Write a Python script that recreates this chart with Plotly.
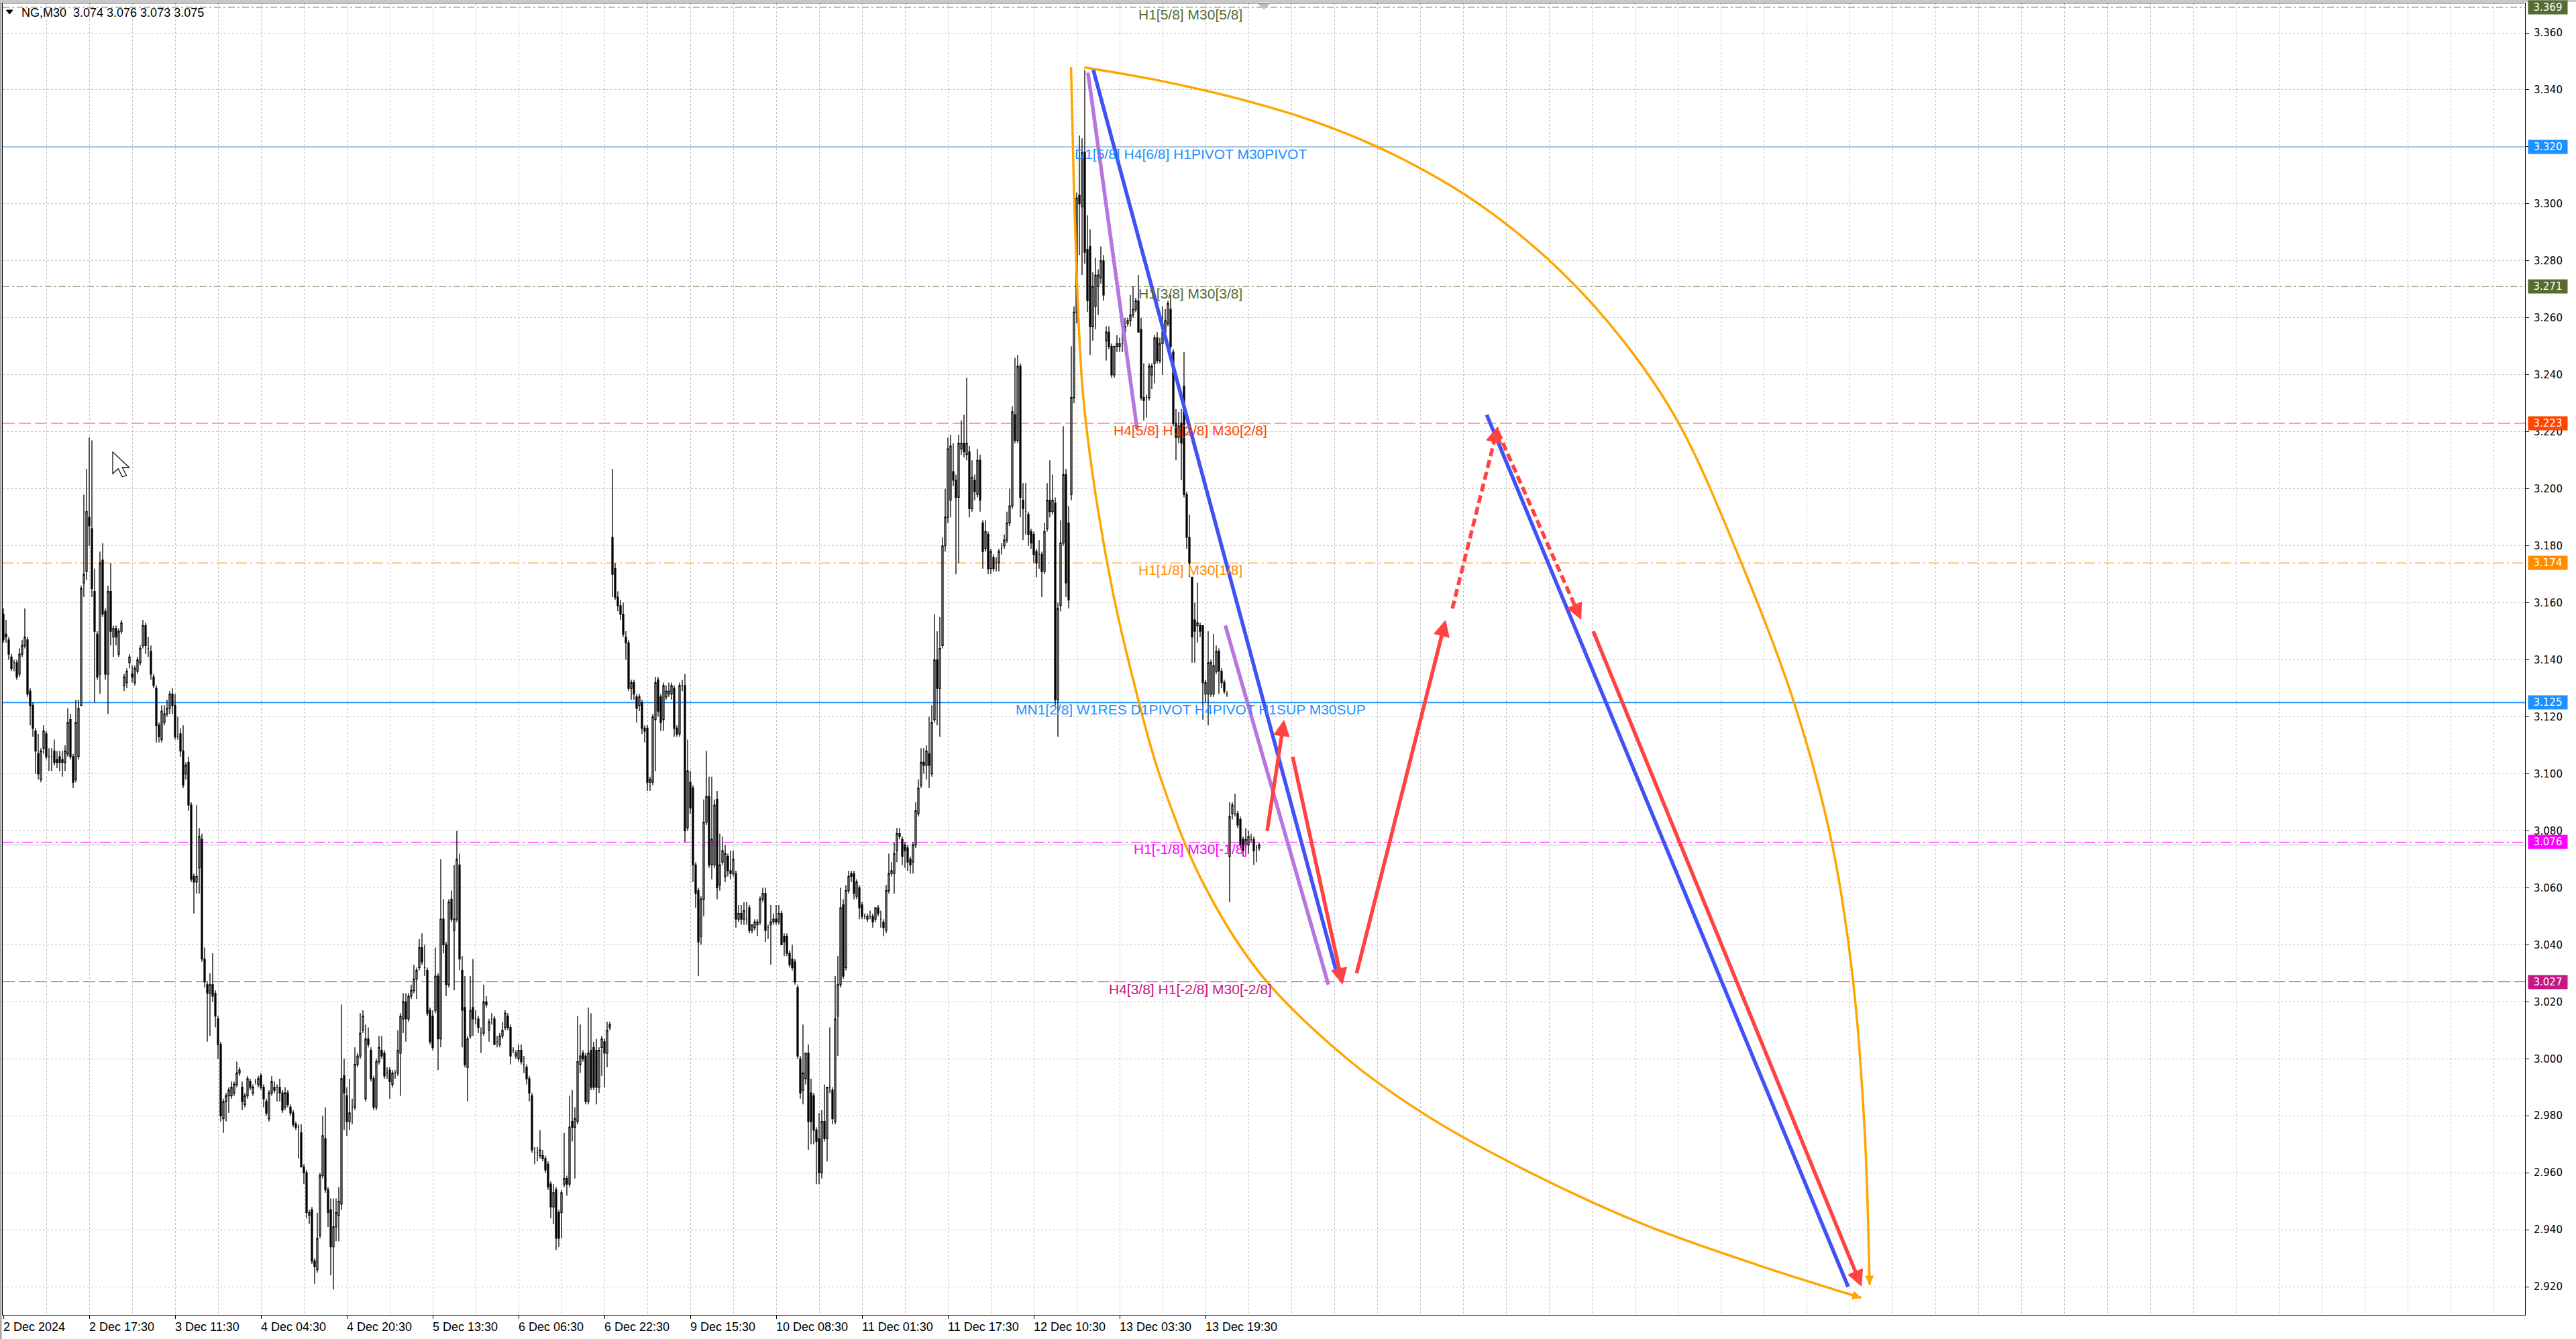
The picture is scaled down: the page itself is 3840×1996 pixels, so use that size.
import math
import plotly.graph_objects as go

# ---------------- candles (open, high, low, close), one list per session block ----------------
SEG_02DEC_A = [
    (3.156, 3.158, 3.146, 3.147), (3.149, 3.154, 3.146, 3.148), (3.147, 3.148, 3.140, 3.142), (3.141, 3.142, 3.136, 3.137),
    (3.139, 3.140, 3.136, 3.139), (3.139, 3.140, 3.133, 3.134), (3.135, 3.144, 3.134, 3.142), (3.142, 3.147, 3.141, 3.145),
    (3.145, 3.158, 3.144, 3.148), (3.147, 3.148, 3.127, 3.128), (3.129, 3.130, 3.117, 3.124), (3.124, 3.125, 3.113, 3.116),
    (3.115, 3.116, 3.100, 3.108), (3.107, 3.114, 3.098, 3.100), (3.098, 3.109, 3.097, 3.108), (3.109, 3.117, 3.107, 3.115),
    (3.114, 3.115, 3.105, 3.106), (3.106, 3.109, 3.101, 3.106), (3.106, 3.109, 3.101, 3.106), (3.108, 3.112, 3.103, 3.104),
    (3.105, 3.108, 3.102, 3.104), (3.106, 3.108, 3.101, 3.104), (3.105, 3.108, 3.099, 3.104), (3.104, 3.110, 3.101, 3.108),
    (3.107, 3.123, 3.106, 3.118), (3.119, 3.121, 3.105, 3.106), (3.106, 3.107, 3.095, 3.097), (3.098, 3.126, 3.097, 3.118),
    (3.106, 3.126, 3.105, 3.123), (3.124, 3.166, 3.124, 3.165), (3.167, 3.198, 3.162, 3.170), (3.171, 3.207, 3.168, 3.192),
]
SEG_02DEC_B = [
    (3.190, 3.218, 3.180, 3.187), (3.186, 3.217, 3.162, 3.165), (3.164, 3.172, 3.125, 3.150), (3.149, 3.150, 3.133, 3.134),
    (3.135, 3.178, 3.128, 3.174), (3.175, 3.181, 3.155, 3.156), (3.157, 3.158, 3.133, 3.135), (3.135, 3.166, 3.121, 3.164),
    (3.164, 3.174, 3.145, 3.150), (3.148, 3.152, 3.141, 3.151), (3.151, 3.152, 3.145, 3.148), (3.142, 3.151, 3.141, 3.150),
    (3.150, 3.154, 3.149, 3.153), (3.131, 3.135, 3.129, 3.134), (3.132, 3.137, 3.130, 3.136), (3.139, 3.142, 3.137, 3.141),
    (3.135, 3.138, 3.132, 3.134), (3.132, 3.138, 3.131, 3.137), (3.136, 3.141, 3.135, 3.140), (3.139, 3.145, 3.138, 3.144),
    (3.145, 3.154, 3.144, 3.152), (3.152, 3.153, 3.142, 3.145), (3.144, 3.148, 3.141, 3.144), (3.143, 3.145, 3.133, 3.135),
    (3.134, 3.135, 3.130, 3.131), (3.130, 3.131, 3.111, 3.117), (3.117, 3.118, 3.111, 3.113), (3.112, 3.124, 3.111, 3.122),
    (3.118, 3.124, 3.117, 3.121), (3.121, 3.126, 3.120, 3.123), (3.123, 3.129, 3.121, 3.128), (3.128, 3.130, 3.121, 3.124),
]
SEG_03DEC = [
    (3.124, 3.128, 3.112, 3.113), (3.113, 3.120, 3.112, 3.113), (3.114, 3.116, 3.106, 3.108), (3.108, 3.117, 3.095, 3.096),
    (3.100, 3.104, 3.098, 3.103), (3.104, 3.106, 3.087, 3.089), (3.089, 3.090, 3.062, 3.063), (3.064, 3.065, 3.051, 3.062),
    (3.062, 3.089, 3.058, 3.064), (3.067, 3.081, 3.058, 3.078), (3.077, 3.079, 3.034, 3.035), (3.035, 3.039, 3.025, 3.027),
    (3.026, 3.027, 3.006, 3.023), (3.023, 3.030, 3.008, 3.026), (3.026, 3.037, 3.020, 3.022), (3.023, 3.024, 3.011, 3.015),
    (3.014, 3.015, 3.000, 3.005), (3.005, 3.006, 2.978, 2.980), (2.979, 2.986, 2.974, 2.985), (2.985, 2.988, 2.978, 2.987),
    (2.987, 2.990, 2.981, 2.989), (2.987, 2.992, 2.986, 2.990), (2.988, 2.992, 2.987, 2.991), (2.991, 2.999, 2.990, 2.995),
    (2.995, 2.997, 2.994, 2.996), (2.990, 2.992, 2.982, 2.985), (2.984, 2.988, 2.983, 2.987), (2.987, 2.994, 2.986, 2.993),
    (2.992, 2.993, 2.989, 2.990), (2.988, 2.991, 2.987, 2.990), (2.992, 2.993, 2.991, 2.992), (2.991, 2.994, 2.990, 2.993),
]
SEG_04DEC_A = [
    (2.994, 2.995, 2.989, 2.990), (2.990, 2.991, 2.983, 2.986), (2.985, 2.986, 2.980, 2.981), (2.979, 2.989, 2.978, 2.988),
    (2.988, 2.994, 2.987, 2.992), (2.990, 2.992, 2.988, 2.989), (2.990, 2.991, 2.985, 2.990), (2.990, 2.993, 2.985, 2.988),
    (2.988, 2.989, 2.981, 2.982), (2.983, 2.990, 2.982, 2.988), (2.988, 2.989, 2.983, 2.984), (2.983, 2.984, 2.980, 2.981),
    (2.981, 2.982, 2.976, 2.977), (2.977, 2.978, 2.975, 2.976), (2.976, 2.977, 2.965, 2.976), (2.974, 2.977, 2.962, 2.962),
    (2.962, 2.963, 2.956, 2.960), (2.960, 2.961, 2.944, 2.946), (2.945, 2.947, 2.942, 2.946), (2.947, 2.948, 2.928, 2.929),
    (2.929, 2.930, 2.921, 2.927), (2.926, 2.946, 2.925, 2.937), (2.938, 2.960, 2.937, 2.959), (2.959, 2.980, 2.958, 2.973),
    (2.972, 2.983, 2.953, 2.954), (2.954, 2.955, 2.941, 2.946), (2.947, 2.951, 2.924, 2.934), (2.934, 2.951, 2.919, 2.941),
    (2.941, 2.951, 2.936, 2.946), (2.945, 2.955, 2.936, 2.950), (2.949, 3.019, 2.947, 2.993), (2.994, 3.000, 2.975, 2.988),
]
SEG_04DEC_B = [
    (2.987, 2.990, 2.973, 2.978), (2.978, 2.993, 2.975, 2.981), (2.983, 2.986, 2.977, 2.983), (2.983, 3.004, 2.982, 2.998),
    (2.998, 3.002, 2.997, 3.001), (3.001, 3.016, 3.000, 3.009), (3.010, 3.017, 3.009, 3.015), (2.986, 3.012, 2.985, 3.007),
    (3.007, 3.011, 3.004, 3.005), (3.003, 3.004, 2.992, 2.993), (2.993, 2.994, 2.982, 2.983), (2.983, 3.000, 2.982, 2.999),
    (2.999, 3.008, 2.998, 3.004), (3.003, 3.008, 3.000, 3.001), (3.002, 3.003, 2.993, 2.994), (2.995, 2.997, 2.993, 2.995),
    (2.996, 2.997, 2.986, 2.992), (2.991, 2.996, 2.990, 2.995), (2.995, 2.996, 2.993, 2.995), (2.995, 3.010, 2.994, 3.003),
    (3.002, 3.016, 2.987, 3.015), (3.014, 3.023, 3.009, 3.020), (3.020, 3.023, 3.006, 3.014), (3.014, 3.023, 3.013, 3.022),
    (3.022, 3.026, 3.021, 3.024), (3.024, 3.033, 3.023, 3.028), (3.028, 3.032, 3.021, 3.031), (3.032, 3.042, 3.031, 3.039),
    (3.039, 3.044, 3.033, 3.034), (3.032, 3.040, 3.029, 3.032), (3.031, 3.032, 3.015, 3.016), (3.017, 3.018, 3.005, 3.006),
]
SEG_05DEC = [
    (3.015, 3.017, 3.003, 3.004), (3.017, 3.039, 3.016, 3.029), (3.029, 3.030, 2.996, 3.007), (3.007, 3.070, 3.004, 3.049),
    (3.049, 3.056, 3.037, 3.040), (3.040, 3.041, 3.022, 3.026), (3.026, 3.056, 3.025, 3.055), (3.056, 3.059, 3.048, 3.049),
    (3.045, 3.068, 3.024, 3.049), (3.049, 3.080, 3.048, 3.070), (3.068, 3.072, 3.031, 3.035), (3.031, 3.036, 3.004, 3.017),
    (3.018, 3.029, 2.997, 2.998), (2.997, 3.008, 2.985, 3.007), (3.008, 3.029, 3.007, 3.017), (3.018, 3.035, 3.008, 3.014),
    (3.014, 3.017, 3.012, 3.014), (3.014, 3.015, 3.009, 3.011), (3.009, 3.011, 3.002, 3.009), (3.009, 3.026, 3.008, 3.020),
    (3.020, 3.022, 3.018, 3.019), (3.010, 3.014, 3.006, 3.013), (3.014, 3.016, 3.012, 3.014), (3.014, 3.015, 3.005, 3.005),
    (3.006, 3.008, 3.004, 3.006), (3.005, 3.009, 3.004, 3.008), (3.008, 3.013, 3.007, 3.010), (3.011, 3.017, 3.010, 3.016),
    (3.015, 3.016, 3.010, 3.011), (3.011, 3.012, 2.998, 3.001), (3.003, 3.004, 3.002, 3.003), (3.001, 3.003, 3.000, 3.002),
]
SEG_06DEC = [
    (3.000, 3.005, 2.999, 3.003), (3.003, 3.005, 2.998, 2.999), (2.998, 3.001, 2.995, 2.998), (2.997, 2.998, 2.991, 2.993),
    (2.993, 2.994, 2.985, 2.988), (2.987, 2.988, 2.967, 2.968), (2.967, 2.969, 2.963, 2.967), (2.967, 2.969, 2.964, 2.967),
    (2.966, 2.975, 2.965, 2.968), (2.966, 2.968, 2.964, 2.965), (2.965, 2.966, 2.960, 2.961), (2.963, 2.964, 2.954, 2.955),
    (2.956, 2.957, 2.944, 2.948), (2.948, 2.956, 2.942, 2.953), (2.954, 2.955, 2.933, 2.937), (2.946, 2.947, 2.934, 2.937),
    (2.946, 2.954, 2.937, 2.953), (2.956, 2.974, 2.955, 2.958), (2.958, 2.959, 2.952, 2.956), (2.956, 2.987, 2.955, 2.976),
    (2.978, 2.989, 2.971, 2.976), (2.976, 2.983, 2.958, 2.979), (2.978, 3.015, 2.977, 2.999), (2.998, 3.012, 2.995, 3.001),
    (3.002, 3.003, 2.999, 3.000), (3.001, 3.002, 2.984, 2.985), (2.985, 3.018, 2.984, 3.002), (3.003, 3.016, 2.989, 2.990),
    (3.004, 3.006, 2.989, 2.990), (3.003, 3.007, 2.984, 2.990), (2.990, 3.004, 2.988, 3.003), (3.004, 3.008, 2.994, 3.007),
    (3.006, 3.007, 2.990, 3.002), (3.002, 3.013, 2.997, 3.010), (3.011, 3.013, 3.010, 3.012),
]
SEG_09DEC_A = [
    (3.183, 3.207, 3.162, 3.170), (3.172, 3.174, 3.161, 3.162), (3.162, 3.164, 3.157, 3.159), (3.159, 3.161, 3.154, 3.156),
    (3.156, 3.160, 3.148, 3.149), (3.148, 3.150, 3.140, 3.146), (3.146, 3.147, 3.129, 3.130), (3.130, 3.133, 3.126, 3.132),
    (3.132, 3.133, 3.126, 3.128), (3.127, 3.128, 3.118, 3.123), (3.124, 3.128, 3.122, 3.127), (3.125, 3.126, 3.114, 3.116),
    (3.116, 3.117, 3.111, 3.115), (3.116, 3.117, 3.094, 3.097), (3.097, 3.099, 3.094, 3.098), (3.097, 3.121, 3.096, 3.120),
    (3.119, 3.134, 3.101, 3.132), (3.133, 3.134, 3.120, 3.122), (3.127, 3.128, 3.115, 3.118), (3.119, 3.132, 3.115, 3.131),
    (3.127, 3.131, 3.126, 3.129), (3.128, 3.132, 3.127, 3.129), (3.128, 3.132, 3.126, 3.131), (3.130, 3.131, 3.113, 3.116),
    (3.116, 3.117, 3.113, 3.114), (3.114, 3.132, 3.113, 3.131), (3.131, 3.133, 3.129, 3.131), (3.131, 3.135, 3.076, 3.080),
    (3.081, 3.112, 3.080, 3.101),
]
SEG_09DEC_B = [
    (3.097, 3.101, 3.086, 3.088), (3.095, 3.096, 3.062, 3.068), (3.068, 3.069, 3.053, 3.058), (3.059, 3.060, 3.029, 3.041),
    (3.043, 3.057, 3.040, 3.056), (3.056, 3.091, 3.050, 3.083), (3.083, 3.108, 3.082, 3.092), (3.092, 3.099, 3.067, 3.068),
    (3.068, 3.099, 3.063, 3.077), (3.068, 3.091, 3.067, 3.089), (3.091, 3.094, 3.056, 3.060), (3.061, 3.079, 3.059, 3.068),
    (3.069, 3.078, 3.068, 3.073), (3.064, 3.075, 3.062, 3.072), (3.071, 3.072, 3.064, 3.066), (3.066, 3.073, 3.063, 3.065),
    (3.065, 3.073, 3.064, 3.070), (3.065, 3.066, 3.046, 3.049), (3.049, 3.054, 3.048, 3.051), (3.051, 3.054, 3.047, 3.049),
    (3.049, 3.055, 3.047, 3.052), (3.049, 3.055, 3.047, 3.049), (3.053, 3.054, 3.044, 3.045), (3.045, 3.047, 3.044, 3.047),
    (3.046, 3.049, 3.045, 3.048), (3.047, 3.049, 3.043, 3.048), (3.048, 3.057, 3.047, 3.056), (3.056, 3.060, 3.055, 3.058),
    (3.058, 3.060, 3.041, 3.045), (3.046, 3.047, 3.042, 3.046), (3.047, 3.054, 3.033, 3.048), (3.048, 3.051, 3.047, 3.049),
]
SEG_10DEC = [
    (3.049, 3.054, 3.047, 3.048), (3.048, 3.054, 3.047, 3.051), (3.051, 3.052, 3.040, 3.040), (3.043, 3.044, 3.036, 3.041),
    (3.043, 3.044, 3.036, 3.037), (3.037, 3.038, 3.032, 3.033), (3.035, 3.040, 3.031, 3.032), (3.034, 3.035, 3.026, 3.027),
    (3.025, 3.026, 3.000, 3.001), (3.000, 3.001, 2.986, 2.988), (2.989, 3.012, 2.984, 2.995), (2.993, 3.002, 2.991, 3.002),
    (3.002, 3.005, 2.968, 2.978), (2.988, 2.993, 2.970, 2.978), (2.987, 2.988, 2.970, 2.975), (2.975, 2.976, 2.956, 2.971),
    (2.972, 2.981, 2.956, 2.960), (2.960, 2.982, 2.958, 2.978), (2.978, 2.991, 2.971, 2.972), (2.972, 2.990, 2.964, 2.990),
    (2.990, 3.011, 2.988, 2.990), (2.989, 2.990, 2.977, 2.979), (2.978, 3.029, 2.977, 3.014), (3.015, 3.036, 3.001, 3.026),
    (3.026, 3.060, 3.025, 3.053), (3.054, 3.056, 3.028, 3.029), (3.032, 3.061, 3.031, 3.059), (3.059, 3.066, 3.058, 3.064),
    (3.065, 3.066, 3.062, 3.064), (3.065, 3.066, 3.056, 3.058), (3.057, 3.063, 3.056, 3.062), (3.060, 3.061, 3.049, 3.053),
]
SEG_11DEC_A = [
    (3.054, 3.055, 3.049, 3.050), (3.050, 3.051, 3.049, 3.050), (3.049, 3.051, 3.048, 3.050), (3.050, 3.052, 3.049, 3.050),
    (3.050, 3.051, 3.046, 3.048), (3.049, 3.053, 3.048, 3.053), (3.053, 3.054, 3.050, 3.051), (3.049, 3.052, 3.046, 3.049),
    (3.048, 3.049, 3.043, 3.046), (3.045, 3.061, 3.044, 3.059), (3.059, 3.072, 3.058, 3.065), (3.065, 3.069, 3.064, 3.066),
    (3.065, 3.076, 3.058, 3.072), (3.073, 3.081, 3.069, 3.079), (3.079, 3.081, 3.077, 3.078), (3.077, 3.078, 3.068, 3.071),
    (3.075, 3.076, 3.067, 3.073), (3.074, 3.075, 3.066, 3.069), (3.070, 3.071, 3.065, 3.068), (3.069, 3.076, 3.065, 3.075),
    (3.075, 3.090, 3.074, 3.087), (3.086, 3.098, 3.085, 3.095), (3.096, 3.109, 3.095, 3.104), (3.104, 3.109, 3.100, 3.103),
    (3.103, 3.110, 3.098, 3.108), (3.107, 3.120, 3.095, 3.103), (3.100, 3.124, 3.099, 3.118), (3.119, 3.156, 3.118, 3.140),
    (3.140, 3.150, 3.117, 3.130), (3.130, 3.155, 3.113, 3.144), (3.145, 3.183, 3.144, 3.180), (3.180, 3.200, 3.178, 3.190),
]
SEG_11DEC_B = [
    (3.190, 3.218, 3.188, 3.214), (3.196, 3.219, 3.190, 3.215), (3.206, 3.216, 3.201, 3.203), (3.203, 3.205, 3.170, 3.197),
    (3.197, 3.219, 3.174, 3.216), (3.214, 3.224, 3.212, 3.216), (3.216, 3.226, 3.211, 3.213), (3.212, 3.239, 3.210, 3.216),
    (3.213, 3.215, 3.190, 3.193), (3.193, 3.210, 3.192, 3.204), (3.203, 3.205, 3.196, 3.199), (3.198, 3.214, 3.197, 3.210),
    (3.210, 3.212, 3.192, 3.196), (3.188, 3.189, 3.172, 3.178), (3.179, 3.189, 3.178, 3.185), (3.184, 3.185, 3.170, 3.172),
    (3.172, 3.179, 3.170, 3.178), (3.176, 3.177, 3.171, 3.172), (3.174, 3.176, 3.171, 3.174), (3.174, 3.179, 3.171, 3.178),
    (3.179, 3.181, 3.177, 3.179), (3.180, 3.184, 3.179, 3.182), (3.182, 3.192, 3.181, 3.188), (3.188, 3.200, 3.187, 3.194),
    (3.194, 3.229, 3.193, 3.227), (3.226, 3.246, 3.216, 3.217), (3.217, 3.247, 3.216, 3.243), (3.243, 3.244, 3.190, 3.197),
    (3.196, 3.202, 3.182, 3.193), (3.192, 3.202, 3.184, 3.192), (3.191, 3.192, 3.180, 3.184), (3.185, 3.186, 3.179, 3.181),
]
SEG_12DEC = [
    (3.184, 3.185, 3.174, 3.177), (3.178, 3.179, 3.169, 3.174), (3.177, 3.182, 3.172, 3.177), (3.177, 3.178, 3.162, 3.171),
    (3.171, 3.188, 3.170, 3.185), (3.186, 3.202, 3.185, 3.196), (3.196, 3.210, 3.190, 3.192), (3.192, 3.205, 3.191, 3.196),
    (3.195, 3.197, 3.124, 3.126), (3.126, 3.160, 3.113, 3.158), (3.159, 3.189, 3.157, 3.181), (3.181, 3.222, 3.180, 3.205),
    (3.205, 3.207, 3.162, 3.167), (3.188, 3.194, 3.158, 3.161), (3.198, 3.250, 3.196, 3.232), (3.232, 3.264, 3.230, 3.262),
    (3.262, 3.304, 3.258, 3.302), (3.303, 3.324, 3.282, 3.300), (3.299, 3.323, 3.275, 3.318), (3.318, 3.347, 3.279, 3.283),
    (3.284, 3.296, 3.262, 3.266), (3.285, 3.291, 3.247, 3.257), (3.257, 3.276, 3.252, 3.271), (3.264, 3.281, 3.256, 3.275),
    (3.271, 3.277, 3.261, 3.275), (3.274, 3.285, 3.272, 3.280), (3.280, 3.282, 3.266, 3.268), (3.252, 3.257, 3.245, 3.255),
    (3.255, 3.257, 3.249, 3.250), (3.250, 3.251, 3.239, 3.240), (3.240, 3.250, 3.239, 3.250), (3.250, 3.254, 3.248, 3.251),
]
SEG_13DEC_A = [
    (3.250, 3.253, 3.248, 3.251), (3.251, 3.257, 3.248, 3.251), (3.255, 3.260, 3.254, 3.257), (3.258, 3.260, 3.257, 3.259),
    (3.259, 3.268, 3.257, 3.261), (3.261, 3.271, 3.260, 3.263), (3.263, 3.267, 3.262, 3.266), (3.266, 3.275, 3.255, 3.255),
    (3.256, 3.260, 3.231, 3.232), (3.232, 3.244, 3.224, 3.231), (3.232, 3.233, 3.225, 3.232), (3.232, 3.244, 3.231, 3.243),
    (3.240, 3.244, 3.235, 3.243), (3.244, 3.254, 3.237, 3.253), (3.253, 3.255, 3.244, 3.245), (3.245, 3.253, 3.244, 3.251),
    (3.251, 3.264, 3.240, 3.255), (3.255, 3.263, 3.254, 3.259), (3.258, 3.266, 3.257, 3.265), (3.263, 3.268, 3.249, 3.250),
    (3.248, 3.249, 3.222, 3.223), (3.223, 3.228, 3.210, 3.218), (3.218, 3.227, 3.216, 3.222), (3.223, 3.228, 3.203, 3.216),
    (3.236, 3.248, 3.197, 3.198), (3.198, 3.199, 3.179, 3.183), (3.183, 3.191, 3.169, 3.174), (3.169, 3.169, 3.139, 3.148),
    (3.154, 3.160, 3.139, 3.150), (3.152, 3.167, 3.146, 3.153), (3.152, 3.153, 3.148, 3.150), (3.152, 3.152, 3.119, 3.132),
]
SEG_13DEC_B = [
    (3.128, 3.133, 3.125, 3.132), (3.128, 3.150, 3.117, 3.139), (3.128, 3.140, 3.127, 3.139), (3.128, 3.149, 3.127, 3.138),
    (3.136, 3.145, 3.135, 3.143), (3.143, 3.144, 3.128, 3.136), (3.136, 3.137, 3.130, 3.132), (3.132, 3.133, 3.128, 3.129),
    (3.128, 3.129, 3.127, 3.128), (3.071, 3.090, 3.055, 3.085), (3.086, 3.090, 3.084, 3.089), (3.086, 3.093, 3.085, 3.086),
    (3.086, 3.087, 3.081, 3.082), (3.084, 3.085, 3.074, 3.075), (3.077, 3.078, 3.071, 3.073), (3.075, 3.081, 3.074, 3.077),
    (3.075, 3.080, 3.072, 3.078), (3.077, 3.079, 3.076, 3.077), (3.077, 3.078, 3.068, 3.073), (3.074, 3.075, 3.069, 3.074),
    (3.074, 3.076, 3.073, 3.075),
]
SEGMENTS = [SEG_02DEC_A, SEG_02DEC_B, SEG_03DEC, SEG_04DEC_A, SEG_04DEC_B, SEG_05DEC, SEG_06DEC,
            SEG_09DEC_A, SEG_09DEC_B, SEG_10DEC, SEG_11DEC_A, SEG_11DEC_B, SEG_12DEC, SEG_13DEC_A, SEG_13DEC_B]

# ---------------- axis texts ----------------
TIME_LABELS = ["2 Dec 2024", "2 Dec 17:30", "3 Dec 11:30", "4 Dec 04:30", "4 Dec 20:30", "5 Dec 13:30",
               "6 Dec 06:30", "6 Dec 22:30", "9 Dec 15:30", "10 Dec 08:30", "11 Dec 01:30", "11 Dec 17:30",
               "12 Dec 10:30", "13 Dec 03:30", "13 Dec 19:30"]
TIME_LABEL_BARS = [0, 32, 64, 96, 128, 160, 192, 224, 256, 288, 320, 352, 384, 416, 448]
HEADER = "NG,M30&nbsp; 3.074 3.076 3.073 3.075"
BID = 3.075

# ---------------- Murrey / pivot levels ----------------
LEVEL_PRICES = [3.369, 3.320, 3.271, 3.223, 3.174, 3.125, 3.076, 3.027]
LEVEL_TEXTS = ["H1[5/8] M30[5/8]", "D1[5/8] H4[6/8] H1PIVOT M30PIVOT", "H1[3/8] M30[3/8]",
               "H4[5/8] H1[2/8] M30[2/8]", "H1[1/8] M30[1/8]",
               "MN1[2/8] W1RES D1PIVOT H4PIVOT H1SUP M30SUP", "H1[-1/8] M30[-1/8]",
               "H4[3/8] H1[-2/8] M30[-2/8]"]
LEVEL_COLORS = ["#556B2F", "#1E90FF", "#556B2F", "#FF4500", "#FF8C00", "#1E90FF", "#FF00FF", "#C71585"]
LEVEL_DASH = ["10px,4px,3px,4px", "solid", "10px,4px,3px,4px", "18px,6px", "16px,5px,3px,5px",
              "solid", "16px,5px,3px,5px", "18px,6px"]
LEVEL_WIDTH = [1, 1, 1, 1, 1, 2, 1, 1]
LEVEL_LABEL_BAR = 442.4

# ---------------- drawn objects (bar index, price) ----------------
ORANGE_LEFT = [(397.9, 3.348), (398.6, 3.320), (399.4, 3.292), (402.1, 3.236), (406.1, 3.204), (413.2, 3.165),
               (420.0, 3.137), (430.4, 3.101), (446.4, 3.063), (468.3, 3.030), (500.8, 3.000), (531.4, 2.9795),
               (568.1, 2.9605), (611.0, 2.942), (653.9, 2.9276), (692.4, 2.9161)]
ORANGE_RIGHT = [(402.8, 3.3479), (427.3, 3.3439), (457.9, 3.3375), (488.6, 3.3289), (519.2, 3.3168),
                (549.8, 3.3000), (580.4, 3.2764), (604.9, 3.2505), (624.5, 3.2228), (647.8, 3.1738),
                (667.4, 3.1248), (681.4, 3.0758), (689.4, 3.0268), (693.7, 2.9738), (695.5, 2.9207)]
BLUE_LINES = [[(406.2, 3.347), (497.2, 3.029)], [(552.8, 3.226), (687.5, 2.920)]]
PURPLE_LINES = [[(404.2, 3.346), (422.5, 3.221)], [(455.4, 3.152), (493.8, 3.026)]]
RED_START = [(471.0, 3.080), (480.5, 3.106), (504.3, 3.030), (540.0, 3.158), (557.0, 3.220), (592.5, 3.150)]
RED_END = [(477.3, 3.119), (499.1, 3.026), (537.5, 3.154), (557.0, 3.222), (588.0, 3.154), (692.5, 2.920)]
RED_DASHED = [False, False, False, True, True, False]

# ---------------- geometry ----------------
W, H = 3840, 1996
ML, MR, MT, MB = 4, 76, 5, 36
X_RANGE = [-0.25, 939.75]
Y_RANGE = [2.91014, 3.37036]
PXB = (W - ML - MR) / (X_RANGE[1] - X_RANGE[0])
PXP = (H - MT - MB) / (Y_RANGE[1] - Y_RANGE[0])

opens, highs, lows, closes = [], [], [], []
for seg in SEGMENTS:
    for o, h, l, c in seg:
        opens.append(o)
        closes.append(c)
        highs.append(max(h, o, c))
        lows.append(min(l, o, c))
xs = list(range(len(opens)))

fig = go.Figure()
fig.add_trace(go.Candlestick(
    x=xs, open=opens, high=highs, low=lows, close=closes,
    increasing=dict(line=dict(color="black", width=1.3), fillcolor="white"),
    decreasing=dict(line=dict(color="black", width=1.3), fillcolor="black"),
    whiskerwidth=0, hoverinfo="skip", showlegend=False))

RED = "#FF4242"
BLUE = "#4052F5"
PURPLE = "#B874DF"
ORANGE = "#FFA500"


def add_line(pts, color, width, dash="solid", shape="linear"):
    fig.add_trace(go.Scatter(x=[p[0] for p in pts], y=[p[1] for p in pts], mode="lines",
                             line=dict(color=color, width=width, dash=dash, shape=shape, smoothing=1.0),
                             hoverinfo="skip", showlegend=False))


add_line(ORANGE_LEFT, ORANGE, 3.5, shape="spline")
add_line(ORANGE_RIGHT, ORANGE, 3.5, shape="spline")
for seg in PURPLE_LINES:
    add_line(seg, PURPLE, 5.5)
for seg in BLUE_LINES:
    add_line(seg, BLUE, 5.5)

annotations = []


def unit_px(p0, p1):
    dx = (p1[0] - p0[0]) * PXB
    dy = -(p1[1] - p0[1]) * PXP
    L = math.hypot(dx, dy)
    return dx / L, dy / L


def arrow_head(p0, p1, color, width):
    ux, uy = unit_px(p0, p1)
    annotations.append(dict(x=p1[0], y=p1[1], xref="x", yref="y", ax=-ux * 26, ay=-uy * 26,
                            text="", showarrow=True, arrowhead=2, arrowsize=0.9, arrowwidth=width,
                            arrowcolor=color, standoff=0))


for p0, p1, dashed in zip(RED_START, RED_END, RED_DASHED):
    ux, uy = unit_px(p0, p1)
    back = 16
    shaft_end = (p1[0] - ux * back / PXB, p1[1] + uy * back / PXP)
    add_line([p0, shaft_end], RED, 5.5, dash="12px,6px" if dashed else "solid")
    arrow_head(p0, p1, RED, 5.5)

arrow_head(ORANGE_LEFT[-2], ORANGE_LEFT[-1], ORANGE, 3)
arrow_head(ORANGE_RIGHT[-2], ORANGE_RIGHT[-1], ORANGE, 3)

shapes = []
for price, color, dash, lw in zip(LEVEL_PRICES, LEVEL_COLORS, LEVEL_DASH, LEVEL_WIDTH):
    shapes.append(dict(type="line", xref="paper", x0=0, x1=1, yref="y", y0=price, y1=price,
                       line=dict(color=color, width=lw, dash=dash), layer="between"))
shapes.append(dict(type="line", xref="paper", x0=0, x1=1, yref="y", y0=BID, y1=BID,
                   line=dict(color="#C0C0C0", width=1), layer="between"))

# level captions and price tags
for price, text, color in zip(LEVEL_PRICES, LEVEL_TEXTS, LEVEL_COLORS):
    annotations.append(dict(x=LEVEL_LABEL_BAR, y=price, xref="x", yref="y", text=text, showarrow=False,
                            xanchor="center", yanchor="top", yshift=3,
                            font=dict(family="Liberation Sans, Arial", size=21, color=color)))
    annotations.append(dict(x=1, y=price, xref="paper", yref="y", text=f"{price:.3f}", showarrow=False,
                            xanchor="left", yanchor="middle", xshift=4, width=54, height=16, borderpad=2,
                            bgcolor=color, font=dict(family="DejaVu Sans", size=15, color="white")))

for bar, label in zip(TIME_LABEL_BARS, TIME_LABELS):
    annotations.append(dict(x=bar, y=0, xref="x", yref="paper", text=label, showarrow=False,
                            xanchor="left", yanchor="middle", xshift=-2, yshift=-18,
                            font=dict(family="Liberation Sans, Arial", size=18, color="black")))

annotations.append(dict(x=0, y=1, xref="paper", yref="paper", text=HEADER, showarrow=False,
                        xanchor="left", yanchor="middle", xshift=26, yshift=-14,
                        font=dict(family="Liberation Sans, Arial", size=18, color="black")))

# small glyphs: header triangle, chart-shift marker, mouse cursor, window frame
shapes.append(dict(type="path", xref="paper", yref="paper", xsizemode="pixel", ysizemode="pixel",
                   xanchor=0, yanchor=1, path="M5.5,-10 L15,-10 L10.2,-16 Z",
                   fillcolor="black", line=dict(color="black", width=1)))
shapes.append(dict(type="path", xref="x", yref="paper", xsizemode="pixel", ysizemode="pixel",
                   xanchor=469.75, yanchor=1, path="M-9,0 L9,0 L0,-9 Z",
                   fillcolor="#BDBDBD", line=dict(color="#BDBDBD", width=1)))
cur = [(0, 0), (0, 17), (4, 13), (7, 19.5), (10, 18.5), (7, 12), (12, 12)]
cur_path = "M" + " L".join(f"{px * 2.05:.1f},{-py * 1.9:.1f}" for px, py in cur) + " Z"
shapes.append(dict(type="path", xref="x", yref="y", xsizemode="pixel", ysizemode="pixel",
                   xanchor=40.75, yanchor=3.2129, path=cur_path,
                   fillcolor="white", line=dict(color="black", width=1.2)))
shapes.append(dict(type="rect", xref="paper", yref="paper", xsizemode="pixel", ysizemode="scaled",
                   xanchor=0, x0=-4, x1=-1.5, y0=-0.02, y1=1.003, fillcolor="#A8A8A8", line=dict(width=0)))
shapes.append(dict(type="rect", xref="paper", yref="paper", xsizemode="scaled", ysizemode="pixel",
                   yanchor=1, x0=-0.002, x1=1.03, y0=2, y1=5, fillcolor="#C8C8C8", line=dict(width=0)))

grid = dict(color="#C0C0C0", dash="3px,3px")
fig.update_layout(
    width=W, height=H, margin=dict(l=ML, r=MR, t=MT, b=MB),
    paper_bgcolor="white", plot_bgcolor="white", showlegend=False,
    shapes=shapes, annotations=annotations,
    xaxis=dict(range=X_RANGE, rangeslider=dict(visible=False), showgrid=False, zeroline=False,
               showline=True, mirror=True, linecolor="black", linewidth=1,
               tickmode="array", tickvals=TIME_LABEL_BARS, ticktext=[""] * len(TIME_LABEL_BARS),
               ticks="outside", ticklen=5, tickcolor="black",
               minor=dict(tickmode="linear", tick0=0, dtick=16, showgrid=True, gridcolor=grid["color"],
                          griddash=grid["dash"], gridwidth=1, ticks="")),
    yaxis=dict(range=Y_RANGE, side="right", tickmode="linear", tick0=2.92, dtick=0.02, tickformat=".3f",
               showgrid=True, gridcolor=grid["color"], griddash=grid["dash"], gridwidth=1, zeroline=False,
               showline=True, mirror=True, linecolor="black", linewidth=1,
               ticks="outside", ticklen=5, tickcolor="black", ticklabelstandoff=4,
               tickfont=dict(family="DejaVu Sans", size=15, color="black")),
)

fig.write_html("out.html", config={"displayModeBar": False},
               post_script="document.body.style.margin='0';document.body.style.overflow='hidden';")
